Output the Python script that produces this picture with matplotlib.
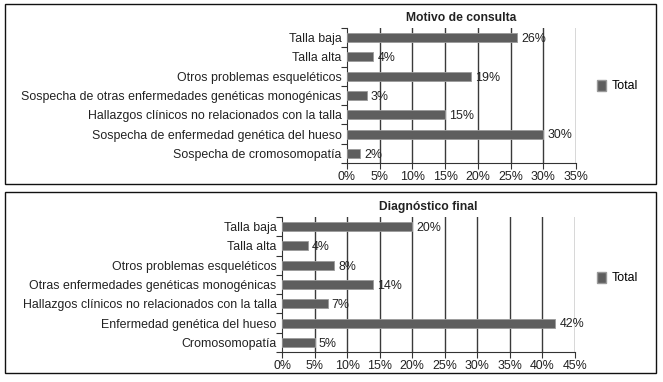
import matplotlib.pyplot as plt
from matplotlib.patches import Rectangle, Patch

plt.rcParams['font.family'] = ['Liberation Sans', 'DejaVu Sans']

W, H = 663, 382

motivo_labels = ["Talla baja", "Talla alta", "Otros problemas esqueléticos",
                 "Sospecha de otras enfermedades genéticas monogénicas",
                 "Hallazgos clínicos no relacionados con la talla",
                 "Sospecha de enfermedad genética del hueso",
                 "Sospecha de cromosomopatía"]
motivo_values = [26, 4, 19, 3, 15, 30, 2]

diag_labels = ["Talla baja", "Talla alta", "Otros problemas esqueléticos",
               "Otras enfermedades genéticas monogénicas",
               "Hallazgos clínicos no relacionados con la talla",
               "Enfermedad genética del hueso",
               "Cromosomopatía"]
diag_values = [20, 4, 8, 14, 7, 42, 5]

bar_color = '#5e5e5e'
text_color = '#222222'
fs = 8.9


def px_rect(x0, y0, x1, y1):
    # pixel box (top-left origin) -> figure coords [left, bottom, width, height]
    return [x0 / W, 1 - y1 / H, (x1 - x0) / W, (y1 - y0) / H]


def draw_panel(fig, rect, labels, values, xmax, title, box, legend_y):
    fig.patches.append(Rectangle((box[0] / W, 1 - box[3] / H),
                                 (box[2] - box[0]) / W, (box[3] - box[1]) / H,
                                 transform=fig.transFigure, fill=False,
                                 edgecolor='#111111', linewidth=1.0))
    ax = fig.add_axes(px_rect(*rect))
    y = list(range(len(labels)))
    ax.barh(y, values, height=0.46, color=bar_color,
            edgecolor='#9a9a9a', linewidth=0.6, zorder=3)
    for yi, v in zip(y, values):
        ax.annotate(f"{v}%", (v, yi), xytext=(3, -1), textcoords='offset points',
                    va='center', ha='left', fontsize=fs, color=text_color, zorder=4)
    ax.set_ylim(len(labels) - 0.5, -0.5)
    ax.set_xlim(0, xmax)
    ticks = list(range(0, xmax + 1, 5))
    ax.set_xticks(ticks)
    ax.set_xticklabels([f"{t}%" for t in ticks], fontsize=fs, color=text_color)
    ax.set_yticks(y)
    ax.set_yticklabels(labels, fontsize=fs, color=text_color)
    ax.set_yticks([i + 0.5 for i in range(-1, len(labels))], minor=True)
    ax.tick_params(axis='y', which='major', length=0, pad=4)
    ax.tick_params(axis='y', which='minor', length=4, width=0.8, color='#333333')
    ax.tick_params(axis='x', length=4, width=0.8, color='#333333', pad=2)
    for t in ticks[1:]:
        ax.axvline(t, color='#3a3a3a', linewidth=1.0, zorder=1)
    for s in ['top', 'right']:
        ax.spines[s].set_visible(False)
    ax.spines['left'].set_color('#333333')
    ax.spines['bottom'].set_color('#333333')
    ax.set_title(title, fontsize=8.7, fontweight='bold', color=text_color, pad=5)
    fig.legend(handles=[Patch(facecolor=bar_color, edgecolor='#9a9a9a', label='Total')],
               loc='center left', bbox_to_anchor=(592 / W, 1 - legend_y / H),
               frameon=False, fontsize=fs, handlelength=0.7, handleheight=1.0,
               handletextpad=0.5, borderaxespad=0)
    return ax


fig = plt.figure(figsize=(W / 100, H / 100), dpi=100)
draw_panel(fig, (347, 28, 576, 163), motivo_labels, motivo_values, 35,
           "Motivo de consulta", (5, 4, 656, 184), 86)
draw_panel(fig, (282, 217, 575, 352), diag_labels, diag_values, 45,
           "Diagnóstico final", (5, 192, 656, 373), 278)

fig.savefig('out.png', dpi=100)
